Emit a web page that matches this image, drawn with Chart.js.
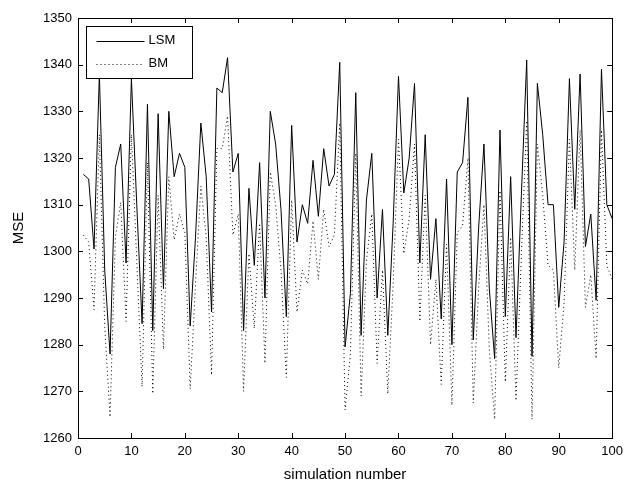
<!DOCTYPE html>
<html>
<head>
<meta charset="utf-8">
<script src="https://cdn.jsdelivr.net/npm/chart.js@4/dist/chart.umd.min.js"></script>
<style>
  html, body { margin: 0; padding: 0; background: #fff; }
  #wrap { width: 629px; height: 488px; }
</style>
</head>
<body>
<div id="wrap"><canvas id="myChart" width="629" height="488"></canvas></div>
<script>
// simulation numbers 1..100
var simNumbers = Array.from({ length: 100 }, (_, i) => i + 1);

var lsmValues = [
  1316.5, 1315.5, 1300.5, 1338, 1296, 1278, 1318, 1323, 1297.5, 1337,
  1310, 1284.5, 1331.5, 1283, 1329.5, 1292, 1330, 1316, 1321, 1318,
  1284, 1303, 1327.5, 1316, 1287, 1335, 1334, 1341.5, 1317, 1321,
  1283, 1313.5, 1297, 1319, 1290, 1330, 1323, 1309, 1286, 1327,
  1302, 1310, 1306, 1319.5, 1307.5, 1322, 1314, 1316.5, 1340.5, 1279.5,
  1291, 1334, 1282, 1311, 1321, 1290, 1309, 1282, 1306, 1337.5,
  1312.5, 1320, 1336, 1297.5, 1325, 1294, 1307, 1285.5, 1315.5, 1280,
  1317, 1319, 1333, 1281, 1305, 1323, 1292, 1277, 1326, 1286,
  1316, 1281.5, 1312, 1341, 1277.5, 1336, 1325, 1310, 1310, 1288,
  1302, 1337, 1309, 1338, 1301, 1308, 1289.5, 1339, 1310, 1307
];

var bmValues = [
  1303.5, 1302, 1287.5, 1325, 1284, 1264.5, 1303, 1310.5, 1285, 1325,
  1298, 1271, 1319, 1269.5, 1312, 1279, 1316, 1302.5, 1308, 1304,
  1270.5, 1293, 1314, 1303, 1273.5, 1322, 1322, 1329, 1303.5, 1308,
  1270, 1299.5, 1283.5, 1306, 1276, 1317, 1310, 1296, 1273, 1311,
  1287, 1296, 1293, 1306.5, 1294, 1309, 1301, 1303.5, 1327.5, 1266,
  1278, 1321, 1269, 1298, 1308, 1276, 1296, 1269.5, 1293, 1324,
  1299.5, 1307, 1323, 1285, 1312, 1280, 1294, 1271.5, 1301.5, 1267,
  1304, 1305.5, 1320, 1267.5, 1292, 1310, 1279, 1264, 1313, 1272,
  1303, 1268, 1299, 1328, 1264, 1323, 1312, 1297, 1296, 1275,
  1289, 1324, 1296, 1326, 1288, 1295, 1277, 1326, 1297, 1294
];

var xTicks = [0, 10, 20, 30, 40, 50, 60, 70, 80, 90, 100];
var yTicks = [1260, 1270, 1280, 1290, 1300, 1310, 1320, 1330, 1340, 1350];

var FONT = "Arial, 'Liberation Sans', sans-serif";

function toPoints(vals) {
  return vals.map((v, i) => ({ x: simNumbers[i], y: v }));
}

// matlab style box, inward ticks and boxed legend
var matlabFrame = {
  id: "matlabFrame",
  afterDraw(chart) {
    var ctx = chart.ctx;
    var a = chart.chartArea;
    var xs = chart.scales.x;
    var ys = chart.scales.y;
    ctx.save();
    ctx.strokeStyle = "#000";
    ctx.lineWidth = 1;
    ctx.beginPath();
    xTicks.forEach(t => {
      var px = Math.round(xs.getPixelForValue(t)) + 0.5;
      ctx.moveTo(px, a.bottom); ctx.lineTo(px, a.bottom - 5);
      ctx.moveTo(px, a.top); ctx.lineTo(px, a.top + 5);
    });
    yTicks.forEach(t => {
      var py = Math.round(ys.getPixelForValue(t)) + 0.5;
      ctx.moveTo(a.left, py); ctx.lineTo(a.left + 5, py);
      ctx.moveTo(a.right, py); ctx.lineTo(a.right - 5, py);
    });
    ctx.stroke();
    ctx.strokeRect(Math.round(a.left) + 0.5, Math.round(a.top) + 0.5,
      Math.round(a.right - a.left), Math.round(a.bottom - a.top));

    // legend
    var lx = 86.5, ly = 26.5, lw = 106, lh = 52;
    ctx.fillStyle = "#fff";
    ctx.fillRect(lx, ly, lw, lh);
    ctx.strokeRect(lx, ly, lw, lh);
    chart.data.datasets.forEach((ds, i) => {
      var yy = ly + 14 + i * 23;
      ctx.beginPath();
      ctx.setLineDash(ds.borderDash || []);
      ctx.moveTo(lx + 10, Math.round(yy) + 0.5);
      ctx.lineTo(lx + 58, Math.round(yy) + 0.5);
      ctx.stroke();
      ctx.setLineDash([]);
      ctx.fillStyle = "#000";
      ctx.font = "13px " + FONT;
      ctx.textBaseline = "middle";
      ctx.fillText(ds.label, lx + 62, yy);
    });
    ctx.restore();
  }
};

new Chart(document.getElementById("myChart"), {
  type: "line",
  data: {
    datasets: [
      {
        label: "LSM",
        data: toPoints(lsmValues),
        borderColor: "#000",
        borderWidth: 1,
        pointRadius: 0,
        tension: 0,
      },
      {
        label: "BM",
        data: toPoints(bmValues),
        borderColor: "#000",
        borderWidth: 1,
        borderDash: [1, 3],
        pointRadius: 0,
        tension: 0,
      },
    ],
  },
  options: {
    responsive: false,
    animation: false,
    layout: { padding: { top: 18, right: 15, left: 6, bottom: 0 } },
    plugins: {
      legend: { display: false },
      tooltip: { enabled: false },
    },
    scales: {
      x: {
        type: "linear",
        min: 0,
        max: 100,
        afterBuildTicks: s => { s.ticks = xTicks.map(v => ({ value: v })); },
        grid: { display: false, drawTicks: false },
        border: { display: false },
        ticks: { color: "#000", font: { family: FONT, size: 13 }, padding: 6, maxRotation: 0, callback: v => String(v) },
        title: { display: true, text: "simulation number", color: "#000", font: { family: FONT, size: 15 }, padding: { top: 0 } },
        afterFit: s => { s.height = 50; },
      },
      y: {
        min: 1260,
        max: 1350,
        afterBuildTicks: s => { s.ticks = yTicks.map(v => ({ value: v })); },
        grid: { display: false, drawTicks: false },
        border: { display: false },
        ticks: { color: "#000", font: { family: FONT, size: 13 }, padding: 6, callback: v => String(v) },
        title: { display: true, text: "MSE", color: "#000", font: { family: FONT, size: 15 }, padding: { bottom: 6 } },
        afterFit: s => { s.width = 72; },
      },
    },
  },
  plugins: [matlabFrame],
});
</script>
</body>
</html>
